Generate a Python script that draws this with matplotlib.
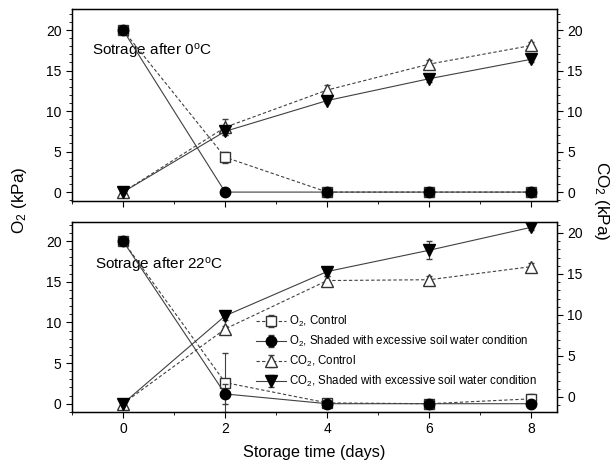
import matplotlib
matplotlib.use("Agg")
import matplotlib.pyplot as plt
from matplotlib.ticker import MultipleLocator

plt.rcParams['font.family'] = ['Liberation Sans', 'DejaVu Sans']
plt.rcParams['mathtext.fontset'] = 'custom'
plt.rcParams['mathtext.rm'] = 'Liberation Sans'
plt.rcParams['mathtext.it'] = 'Liberation Sans:italic'

days = [0, 2, 4, 6, 8]

# Top panel: storage after 0 C
o2_ctrl_0 = [20, 4.3, 0, 0, 0]
o2_ctrl_0_err = [0.2, 0.7, 0, 0, 0]
o2_shad_0 = [20, 0, 0, 0, 0]
o2_shad_0_err = [0, 0, 0, 0, 0]
co2_ctrl_0 = [0, 8.0, 12.6, 15.8, 18.1]
co2_ctrl_0_err = [0, 1.0, 0.6, 0.5, 0.4]
co2_shad_0 = [0, 7.5, 11.3, 14.0, 16.4]
co2_shad_0_err = [0, 0.5, 0.3, 0.4, 0.3]

# Bottom panel: storage after 22 C
o2_ctrl_22 = [20, 2.6, 0.1, 0, 0.6]
o2_ctrl_22_err = [0, 3.6, 0.2, 0, 0.6]
o2_shad_22 = [20, 1.2, 0, 0, 0]
o2_shad_22_err = [0, 1.2, 0, 0, 0]
co2_ctrl_22 = [-0.8, 8.3, 14.2, 14.3, 15.9]
co2_ctrl_22_err = [0, 0.4, 0.5, 0.4, 0.4]
co2_shad_22 = [-0.8, 9.9, 15.3, 17.9, 20.7]
co2_shad_22_err = [0, 0.5, 0.6, 1.1, 0.3]

labels = ["O$_2$, Control",
          "O$_2$, Shaded with excessive soil water condition",
          "CO$_2$, Control",
          "CO$_2$, Shaded with excessive soil water condition"]

fig = plt.figure(figsize=(6.16, 4.63), dpi=100)
W, H = 616, 463
ax_top = fig.add_axes([72/W, 1-201/H, 485/W, 192/H])
ax_bot = fig.add_axes([72/W, 1-412/H, 485/W, 190/H])

lc = '#404040'
ms = 7

def plot_panel(ax, ax2, o2c, o2ce, o2s, o2se, co2c, co2ce, co2s, co2se):
    h = []
    h.append(ax.errorbar(days, o2c, yerr=o2ce, color=lc, ls=(0, (3, 2)), lw=0.8,
                         marker='s', mfc='white', mec='#333333', ms=ms, capsize=2.5,
                         elinewidth=0.8, ecolor=lc, zorder=3))
    h.append(ax.errorbar(days, o2s, yerr=o2se, color=lc, ls='-', lw=0.8,
                         marker='o', mfc='black', mec='black', ms=ms+0.5, capsize=2.5,
                         elinewidth=0.8, ecolor=lc, zorder=4))
    h.append(ax2.errorbar(days, co2c, yerr=co2ce, color=lc, ls=(0, (3, 2)), lw=0.8,
                          marker='^', mfc='white', mec='#333333', ms=ms+1, capsize=2.5,
                          elinewidth=0.8, ecolor=lc, zorder=3))
    h.append(ax2.errorbar(days, co2s, yerr=co2se, color=lc, ls='-', lw=0.8,
                          marker='v', mfc='black', mec='black', ms=ms+1, capsize=2.5,
                          elinewidth=0.8, ecolor=lc, zorder=4))
    return h

ax_top2 = ax_top.twinx()
ax_bot2 = ax_bot.twinx()

plot_panel(ax_top, ax_top2, o2_ctrl_0, o2_ctrl_0_err, o2_shad_0, o2_shad_0_err,
           co2_ctrl_0, co2_ctrl_0_err, co2_shad_0, co2_shad_0_err)
hb = plot_panel(ax_bot, ax_bot2, o2_ctrl_22, o2_ctrl_22_err, o2_shad_22, o2_shad_22_err,
                co2_ctrl_22, co2_ctrl_22_err, co2_shad_22, co2_shad_22_err)

for ax in (ax_top, ax_bot):
    ax.set_xlim(-1, 8.5)
    ax.xaxis.set_major_locator(MultipleLocator(2))
    ax.xaxis.set_minor_locator(MultipleLocator(1))
    ax.yaxis.set_major_locator(MultipleLocator(5))
    ax.yaxis.set_minor_locator(MultipleLocator(1))
    ax.tick_params(axis='both', which='major', direction='out', length=4, width=0.8, labelsize=10)
    ax.tick_params(axis='both', which='minor', direction='out', length=2, width=0.6)
    for s in ax.spines.values():
        s.set_linewidth(1.0)
for ax in (ax_top2, ax_bot2):
    ax.yaxis.set_major_locator(MultipleLocator(5))
    ax.yaxis.set_minor_locator(MultipleLocator(1))
    ax.tick_params(axis='y', which='major', direction='out', length=4, width=0.8, labelsize=10)
    ax.tick_params(axis='y', which='minor', direction='out', length=2, width=0.6)

ax_top.set_ylim(-1.1, 22.6)
ax_top2.set_ylim(-1.1, 22.6)
ax_bot.set_ylim(-1.02, 22.35)
ax_bot2.set_ylim(-1.83, 21.34)

ax_top.tick_params(axis='x', labelbottom=False)

ax_top.text(-0.6, 17.3, "Sotrage after 0$^{\\rm o}$C", fontsize=11, va='center', ha='left')
ax_bot.text(-0.55, 17.0, "Sotrage after 22$^{\\rm o}$C", fontsize=11, va='center', ha='left')

ax_bot.set_xlabel("Storage time (days)", fontsize=11.7, labelpad=6)
fig.text(20/W, 1-200/H, "O$_2$ (kPa)", rotation=90, fontsize=12.3, ha='center', va='center')
fig.text(601/W, 1-201/H, "CO$_2$ (kPa)", rotation=-90, fontsize=12.3, ha='center', va='center')

ax_bot2.legend(hb, labels, loc='upper left', bbox_to_anchor=(0.37, 0.54), frameon=False,
               fontsize=8.3, handlelength=2.6, handletextpad=0.3, labelspacing=0.42,
               borderaxespad=0)

fig.savefig("out.png", dpi=100)
